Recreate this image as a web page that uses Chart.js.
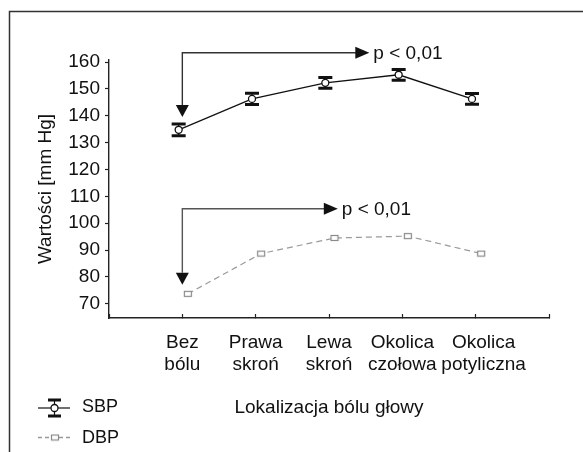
<!DOCTYPE html>
<html>
<head>
<meta charset="utf-8">
<script src="https://cdn.jsdelivr.net/npm/chart.js@4.4.1/dist/chart.umd.min.js"></script>
<style>
  html, body { margin: 0; background: #fff; }
  #wrap { width: 583px; height: 452px; position: relative; }
</style>
</head>
<body>
<div id="wrap"><canvas id="chart"></canvas></div>
<script>
'use strict';

// data
const categories = [['Bez', 'bólu'], ['Prawa', 'skroń'], ['Lewa', 'skroń'], ['Okolica', 'czołowa'], ['   Okolica', '   potyliczna']];
const sbpValues = [134.8, 146.3, 152.3, 155.3, 146.3];
const sbpErrors = [2.2, 2.1, 2.0, 2.0, 2.0];
const dbpValues = [73.7, 88.7, 94.5, 95.2, 88.7];
const yTicks = [70, 80, 90, 100, 110, 120, 130, 140, 150, 160];
const seriesNames = ['SBP', 'DBP'];
const pLabel = 'p < 0,01';

const FONT = "'Liberation Sans', Arial, sans-serif";
const sbpShift = -0.05;
const dbpShift = 0.075;

// brackets in data units
const brackets = [
  { x0: 1, yBar: 163.5, xTip: 3.55, yTip: 139.6, color: '#333' },
  { x0: 1, yBar: 105.4, xTip: 3.12, yTip: 77.1, color: '#555' }
];

// small rectangle marker for DBP
function rectMarker() {
  let c = document.createElement('canvas');
  c.width = 10; c.height = 8;
  let g = c.getContext('2d');
  g.fillStyle = '#fff';
  g.fillRect(1, 1, 8, 6);
  g.strokeStyle = '#8a8a8a';
  g.lineWidth = 1.2;
  g.strokeRect(1.5, 1.5, 7, 5);
  return c;
}
const dbpMarker = rectMarker();

function drawCapBar(ctx, x, y1, y2, capW) {
  ctx.save();
  ctx.strokeStyle = '#111';
  ctx.lineWidth = 1.2;
  ctx.beginPath();
  ctx.moveTo(x, y1);
  ctx.lineTo(x, y2);
  ctx.stroke();
  ctx.lineWidth = 3;
  ctx.beginPath();
  ctx.moveTo(x - capW / 2, y1);
  ctx.lineTo(x + capW / 2, y1);
  ctx.moveTo(x - capW / 2, y2);
  ctx.lineTo(x + capW / 2, y2);
  ctx.stroke();
  ctx.restore();
}

const framePlugin = {
  id: 'frame',
  beforeDraw(chart) {
    let ctx = chart.ctx;
    ctx.save();
    ctx.fillStyle = '#fff';
    ctx.fillRect(0, 0, chart.width, chart.height);
    ctx.strokeStyle = '#333';
    ctx.lineWidth = 1.5;
    ctx.beginPath();
    ctx.moveTo(9.5, chart.height);
    ctx.lineTo(9.5, 11.5);
    ctx.lineTo(chart.width, 11.5);
    ctx.stroke();
    ctx.restore();
  }
};

const errorBarPlugin = {
  id: 'errorBars',
  beforeDatasetsDraw(chart) {
    let xs = chart.scales.x, ys = chart.scales.y;
    sbpValues.forEach((v, i) => {
      let x = xs.getPixelForValue(i + 1 + sbpShift);
      drawCapBar(chart.ctx, x, ys.getPixelForValue(v + sbpErrors[i]), ys.getPixelForValue(v - sbpErrors[i]), 14);
    });
  }
};

const bracketPlugin = {
  id: 'brackets',
  afterDraw(chart) {
    let ctx = chart.ctx, xs = chart.scales.x, ys = chart.scales.y;
    brackets.forEach(b => {
      let x0 = xs.getPixelForValue(b.x0);
      let yb = ys.getPixelForValue(b.yBar);
      let xt = xs.getPixelForValue(b.xTip);
      let yt = ys.getPixelForValue(b.yTip);
      ctx.save();
      ctx.strokeStyle = b.color;
      ctx.fillStyle = '#111';
      ctx.lineWidth = 1.4;
      ctx.beginPath();
      ctx.moveTo(xt - 13, yb);
      ctx.lineTo(x0, yb);
      ctx.lineTo(x0, yt - 12);
      ctx.stroke();
      // heads
      ctx.beginPath();
      ctx.moveTo(x0 - 6.5, yt - 12);
      ctx.lineTo(x0 + 6.5, yt - 12);
      ctx.lineTo(x0, yt);
      ctx.closePath();
      ctx.fill();
      ctx.beginPath();
      ctx.moveTo(xt - 14, yb - 6);
      ctx.lineTo(xt - 14, yb + 6);
      ctx.lineTo(xt, yb);
      ctx.closePath();
      ctx.fill();
      ctx.fillStyle = '#111';
      ctx.font = '19px ' + FONT;
      ctx.textBaseline = 'middle';
      ctx.fillText(pLabel, xt + 4, yb + 1);
      ctx.restore();
    });
  }
};

const legendPlugin = {
  id: 'customLegend',
  afterDraw(chart) {
    let ctx = chart.ctx;
    ctx.save();
    // SBP
    let y = 408;
    ctx.strokeStyle = '#111';
    ctx.lineWidth = 1.2;
    ctx.beginPath();
    ctx.moveTo(38, y);
    ctx.lineTo(70, y);
    ctx.stroke();
    drawCapBar(ctx, 54.5, y - 8, y + 8, 13);
    ctx.fillStyle = '#fff';
    ctx.lineWidth = 1.3;
    ctx.beginPath();
    ctx.arc(54.5, y, 3.5, 0, Math.PI * 2);
    ctx.fill();
    ctx.stroke();
    // DBP
    y = 437.5;
    ctx.strokeStyle = '#999';
    ctx.setLineDash([4, 3]);
    ctx.beginPath();
    ctx.moveTo(38, y);
    ctx.lineTo(72, y);
    ctx.stroke();
    ctx.setLineDash([]);
    ctx.drawImage(dbpMarker, 50, y - 4);
    ctx.fillStyle = '#111';
    ctx.font = '18px ' + FONT;
    ctx.textBaseline = 'middle';
    ctx.fillText(seriesNames[0], 82, 407);
    ctx.fillText(seriesNames[1], 82, 438);
    ctx.restore();
  }
};

let config = {
  type: 'line',
  data: {
    datasets: [{
      label: seriesNames[0],
      data: sbpValues.map((v, i) => ({ x: i + 1 + sbpShift, y: v })),
      borderColor: '#111',
      borderWidth: 1.3,
      pointStyle: 'circle',
      pointRadius: 3.5,
      pointBackgroundColor: '#fff',
      pointBorderColor: '#111',
      pointBorderWidth: 1.3,
      tension: 0
    }, {
      label: seriesNames[1],
      data: dbpValues.map((v, i) => ({ x: i + 1 + dbpShift, y: v })),
      borderColor: '#9a9a9a',
      borderWidth: 1.2,
      borderDash: [6, 4],
      pointStyle: dbpMarker,
      tension: 0
    }]
  },
  options: {
    responsive: true,
    maintainAspectRatio: false,
    animation: false,
    layout: { padding: { left: 0, top: 60, right: 34, bottom: 0 } },
    plugins: {
      legend: { display: false },
      tooltip: { enabled: false }
    },
    scales: {
      x: {
        type: 'linear',
        min: 0,
        max: 6,
        afterBuildTicks: scale => { scale.ticks = [0, 1, 2, 3, 4, 5, 6].map(v => ({ value: v })); },
        afterFit: scale => { scale.height = 134; },
        ticks: {
          autoSkip: false,
          maxRotation: 0,
          padding: 17,
          color: '#111',
          font: { family: FONT, size: 19, lineHeight: 1.2 },
          callback: v => (v >= 1 && v <= 5 ? categories[v - 1] : '')
        },
        grid: { drawOnChartArea: false, tickLength: -4, color: '#222', tickWidth: 1.2 },
        border: { color: '#222', width: 1.4 },
        title: {
          display: true,
          text: 'Lokalizacja bólu głowy',
          color: '#111',
          font: { family: FONT, size: 19, lineHeight: 1.2 },
          padding: { top: 0, bottom: 33 }
        }
      },
      y: {
        min: 64.7,
        max: 160.8,
        afterBuildTicks: scale => { scale.ticks = yTicks.map(v => ({ value: v })); },
        afterFit: scale => { scale.width = 109; },
        ticks: {
          padding: 5,
          color: '#111',
          font: { family: FONT, size: 19 }
        },
        grid: { drawOnChartArea: false, tickLength: 4, color: '#222', tickWidth: 1.2 },
        border: { color: '#222', width: 1.4 },
        title: {
          display: true,
          text: 'Wartości [mm Hg]',
          color: '#111',
          font: { family: FONT, size: 19, lineHeight: 1.2 },
          padding: { top: 34, bottom: 0 }
        }
      }
    }
  },
  plugins: [framePlugin, errorBarPlugin, bracketPlugin, legendPlugin]
};

new Chart(document.getElementById('chart'), config);
</script>
</body>
</html>
